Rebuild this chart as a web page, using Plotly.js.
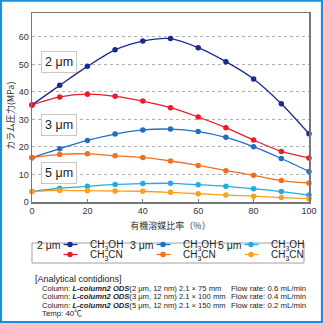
<!DOCTYPE html>
<html>
<head>
<meta charset="utf-8">
<script src="https://cdn.plot.ly/plotly-3.0.1.min.js"></script>
<style>
html,body{margin:0;padding:0;background:#fff;}
#chart{width:323px;height:323px;}
</style>
</head>
<body>
<div id="chart"></div>
<script>
// data
const ratio = [0,10,20,30,40,50,60,70,80,90,100];
const p2_meoh = [35.3,42.4,49.3,55.3,58.5,59.4,56.1,51.0,44.7,35.7,24.8];
const p2_acn  = [35.3,38.2,39.2,38.4,36.7,34.3,30.9,27.0,22.5,18.4,16.0];
const p3_meoh = [16.1,19.4,22.4,24.7,26.2,26.5,25.6,23.5,20.1,15.8,11.1];
const p3_acn  = [16.1,17.3,17.5,16.8,16.2,14.9,13.3,11.4,9.7,7.8,6.9];
const p5_meoh = [3.8,5.0,5.7,6.4,6.7,6.8,6.3,5.7,4.8,3.8,2.5];
const p5_acn  = [3.8,4.2,4.1,4.0,3.9,3.5,3.0,2.5,2.1,1.6,1.2];
const xTicks = [0,20,40,60,80,100];
const yTicks = [0,10,20,30,40,50,60];
const sizeLabels = ['2 μm','3 μm','5 μm'];
const sizeLabelY = [50.9,28.0,10.4];
const solventNames = ['CH<sub>3</sub>OH','CH<sub>3</sub>CN'];
const conditionLines = [
  '[Analytical contidions]',
  'Column: <b><i>L-column2 ODS</i></b>(2 μm, 12 nm) 2.1 × 75 mm',
  'Column: <b><i>L-column2 ODS</i></b>(3 μm, 12 nm) 2.1 × 100 mm',
  'Column: <b><i>L-column2 ODS</i></b>(5 μm, 12 nm) 2.1 × 150 mm',
  'Temp: 40℃'
];
const flowLines = ['Flow rate: 0.6 mL/min','Flow rate: 0.4 mL/min','Flow rate: 0.2 mL/min'];

const series = [
  {y:p2_meoh, c:'#1b2a8e', n:0, col:0, row:0},
  {y:p2_acn,  c:'#ea1c2a', n:1, col:0, row:1},
  {y:p3_meoh, c:'#1f6fc6', n:0, col:1, row:0},
  {y:p3_acn,  c:'#f07022', n:1, col:1, row:1},
  {y:p5_meoh, c:'#25aae6', n:0, col:2, row:0},
  {y:p5_acn,  c:'#f6a21c', n:1, col:2, row:1}
];

// pixel helpers
const W=323, H=323;
const L=32, R=309, T=13, B=202;
const px = p => (p-L)/(R-L);
const py = q => (B-q)/(B-T);
const cx = p => p/W;
const cy = q => 1-q/H;

const FONT = 'Liberation Sans, Arial, Noto Sans CJK JP, sans-serif';
const JFONT = 'Noto Sans CJK JP, sans-serif';

// legend geometry (pixels)
const legLabelRight = [63,156,244];
const legRows = [244.5,254.5];

const lineTraces = series.map(s => ({
  x: ratio, y: s.y, type:'scatter', mode:'lines', showlegend:false, hoverinfo:'skip',
  line:{color:s.c, width:1.3, shape:'spline', smoothing:0.8}, cliponaxis:false
}));
const markerTraces = series.map((s,i) => ({
  x: ratio, y: s.y, type:'scatter', mode:'markers',
  name: solventNames[s.n], legend: i===0 ? 'legend' : 'legend'+(i+1),
  marker:{color:s.c, size:5.5}, cliponaxis:false
}));

const annotations = [];
sizeLabels.forEach((t,i)=>{
  annotations.push({x:9.6, y:sizeLabelY[i], xref:'x', yref:'y', xanchor:'center', yanchor:'middle', text:t, showarrow:false,
    font:{family:FONT,size:12.5,color:'#222'}, bgcolor:'#fff', bordercolor:'#c8c8c8', borderwidth:1, borderpad:3});
});
annotations.push({x:px(10), y:py(116), xref:'paper', yref:'paper', xanchor:'center', yanchor:'middle',
  text:'カラム圧力(MPa)', textangle:-90, showarrow:false, font:{family:JFONT, size:9, color:'#333'}});
// legend size labels
sizeLabels.forEach((t,i)=>{
  annotations.push({x:px(legLabelRight[i]), y:py(legRows[0]), xref:'paper', yref:'paper', xanchor:'right', yanchor:'middle', text:t,
    showarrow:false, font:{family:FONT,size:10.5,color:'#222'}});
});
// conditions
const condY = [278.5,288,296.5,305,313.5];
const condSize = [9,7.6,7.6,7.6,7.8];
conditionLines.forEach((t,i)=>{
  annotations.push({x:px(i===0?33:40), y:py(condY[i]), xref:'paper', yref:'paper', xanchor:'left', yanchor:'middle', text:t,
    showarrow:false, font:{family:FONT,size:condSize[i],color:'#222'}});
});
flowLines.forEach((t,i)=>{
  annotations.push({x:px(229), y:py(condY[i+1]), xref:'paper', yref:'paper', xanchor:'left', yanchor:'middle', text:t,
    showarrow:false, font:{family:FONT,size:7.8,color:'#222'}});
});

const shapes = [
  {type:'rect', xref:'paper', yref:'paper', x0:px(32), x1:px(304), y0:py(263), y1:py(243),
    line:{color:'#a0a0a0', width:1}, fillcolor:'rgba(0,0,0,0)', layer:'below'},
  {type:'rect', xref:'paper', yref:'paper', x0:px(1), x1:px(322), y0:py(322), y1:py(0.7),
    line:{color:'#1a8fe0', width:2.2}, fillcolor:'rgba(0,0,0,0)'}
];
// short legend key lines behind the legend markers
series.forEach(s=>{
  const x0 = legLabelRight[s.col];
  shapes.push({type:'line', xref:'paper', yref:'paper', x0:px(x0+0.5), x1:px(x0+14.5),
    y0:py(legRows[s.row]), y1:py(legRows[s.row]), line:{color:s.c, width:1.3}, layer:'below'});
});

const layout = {
  width:W, height:H,
  margin:{l:L, r:W-R, t:T, b:H-B, autoexpand:false},
  paper_bgcolor:'#fff', plot_bgcolor:'#fff',
  font:{family:FONT, size:9, color:'#333'},
  showlegend:true,
  xaxis:{range:[0,100], tickvals:xTicks, showline:true, mirror:true, linecolor:'#777', linewidth:1.5,
    ticks:'inside', ticklen:3, tickcolor:'#777', showgrid:false, zeroline:false, automargin:false,
    tickfont:{family:FONT,size:9,color:'#333'},
    title:{text:'有機溶媒比率（%）', standoff:7, font:{family:JFONT,size:9,color:'#333'}}},
  yaxis:{range:[0,68.7], tickvals:yTicks, showline:true, mirror:true, linecolor:'#777', linewidth:1.5,
    ticks:'', showgrid:true, gridcolor:'#b0b0b0', griddash:'dot', gridwidth:1, zeroline:false, automargin:false,
    tickfont:{family:FONT,size:9,color:'#333'}},
  annotations: annotations,
  shapes: shapes
};
series.forEach((s,i)=>{
  layout[i===0 ? 'legend' : 'legend'+(i+1)] = {
    xref:'container', yref:'container', xanchor:'left', yanchor:'middle',
    x:cx(legLabelRight[s.col]-13), y:cy(legRows[s.row]), bgcolor:'rgba(0,0,0,0)', borderwidth:0,
    font:{family:FONT,size:10,color:'#222'}, itemclick:false, itemdoubleclick:false
  };
});

Plotly.newPlot('chart', lineTraces.concat(markerTraces), layout, {displayModeBar:false, staticPlot:true});
</script>
</body>
</html>
